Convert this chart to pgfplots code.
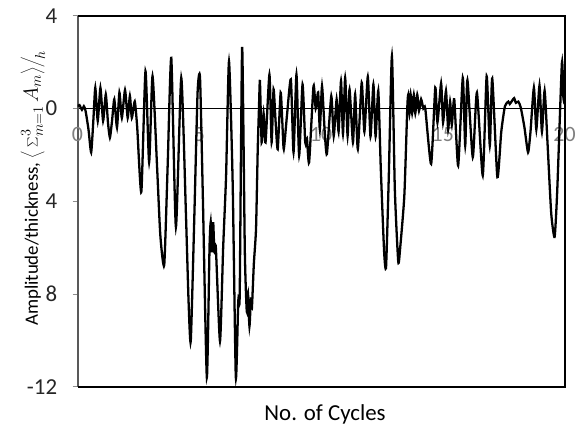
\documentclass[border=0pt]{standalone}
\usepackage{fontspec}
\setmainfont{Carlito}
\usepackage{pgfplots}
\pgfplotsset{compat=1.18}
\usetikzlibrary{calc}

\begin{document}
\begin{tikzpicture}
\begin{axis}[
  name=ax,
  scale only axis, width=490pt, height=373pt,
  xmin=0, xmax=20, ymin=-12, ymax=4,
  axis x line=middle, axis y line=left,
  axis line style={-},
  x axis line style={black, line width=1.1pt},
  y axis line style={black!65, line width=2pt},
  hide obscured x ticks=false, hide obscured y ticks=false,
  xtick={0,5,10,15,20}, xticklabels={0,5,10,15,20},
  xtick style={draw=none},
  ytick={-12,-8,-4,0,4}, yticklabels={-12,8,4,0,4},
  ytick style={black!45, line width=0.8pt},
  tick align=outside, major tick length=5pt,
  x tick label style={font=\fontsize{22}{26}\selectfont, text=black!50, anchor=north, yshift=-10pt},
  y tick label style={font=\fontsize{23}{27}\selectfont, text=black!85, xshift=-12pt},
  xlabel={No. of Cycles},
  xlabel style={font=\fontsize{23}{27}\selectfont, at={(axis description cs:0.5,0)}, anchor=base, yshift=-34pt, xshift=4pt},
  ylabel={Amplitude/thickness,\ {\fontsize{22}{26}\selectfont$\left\langle\,\sum_{m=1}^{3}A_m\right\rangle\!\Bigg/_{\!h}$}},
  ylabel style={font=\fontsize{19}{23}\selectfont, at={(axis description cs:0,0.535)}, anchor=center, yshift=45pt},
]
\addplot[black, line width=2.3pt, smooth, tension=0.35] coordinates {
(0,0.1)(0.08,0.15)(0.18,-0.05)(0.26,0.1)(0.33,-0.1)(0.45,-0.9)(0.56,-1.89)
(0.65,-0.5)(0.73,0.9)(0.83,-0.53)(0.94,0.9)(1.05,-0.53)(1.16,0.61)(1.25,-0.6)
(1.33,-1.25)(1.42,-0.5)(1.51,0.4)(1.62,-0.82)(1.72,0.69)(1.82,-0.4)(1.95,0.8)
(2.06,-0.4)(2.15,0.55)(2.23,-0.4)(2.35,0.31)(2.45,-0.8)(2.62,-3.6)(2.79,1.61)
(2.94,-2.32)(3.08,1.4)(3.27,-2.6)(3.4,-5.47)(3.56,-6.75)(3.7,-2.5)(3.85,2.19)
(4.04,-5.11)(4.26,1.33)(4.45,-4.5)(4.56,-8.33)(4.65,-10.04)(4.8,-4.5)(4.93,0.7)
(5.03,1.33)(5.15,-4)(5.31,-11.6)(5.42,-6)(5.47,-4.9)(5.52,-6.2)(5.57,-4.9)
(5.62,-6.2)(5.68,-6.0)(5.85,-10.04)(5.98,-6.0)(6.1,-2.9)(6.22,2.04)(6.37,-3.18)
(6.5,-11.6)(6.6,-8.3)(6.66,-8.0)(6.76,2.66)(6.87,-6.18)(6.95,-8.76)(7.0,-8.0)
(7.06,-9.4)(7.12,-8.2)(7.16,-8.6)(7.24,-6.7)(7.33,-5.18)(7.40,-1.75)(7.45,0)
(7.49,1.19)(7.56,-1.46)(7.64,-0.2)(7.72,-1.46)(7.88,1.47)(7.97,-1.46)(8.05,0.83)
(8.13,-0.5)(8.22,-1.75)(8.34,0.69)(8.41,-0.6)(8.47,-1.75)(8.6,-0.3)(8.76,1.26)
(8.87,-1.89)(8.99,1.47)(9.1,-2.03)(9.24,1.04)(9.35,-1.46)(9.42,-1.3)(9.51,-2.32)
(9.69,0.97)(9.78,0)(9.88,0.7)(9.95,-0.9)(10.04,0.97)(10.15,-1.0)(10.24,-1.96)
(10.42,0.54)(10.52,-1.18)(10.64,0.4)(10.72,-1.0)(10.82,1.19)(10.9,-1.1)(10.99,1.33)
(11.09,-1.18)(11.17,0.83)(11.31,-1.46)(11.4,0.62)(11.51,-1.75)(11.67,1.12)(11.78,-1.0)
(11.92,1.38)(12.03,-1.2)(12.15,1.04)(12.24,-1.2)(12.35,0.77)(12.45,-2.5)(12.59,-6.18)
(12.67,-6.82)(12.78,-3)(12.91,2.26)(13.03,-3.5)(13.17,-6.61)(13.25,-6.0)(13.42,-3.75)
(13.54,0)(13.58,0.6)(13.63,-0.2)(13.68,0.6)(13.74,-0.2)(13.81,0.6)(13.87,-0.2)
(13.95,0.6)(14.02,-0.1)(14.11,0.4)(14.2,0.0)(14.28,0)(14.52,-2.39)(14.69,0.9)
(14.78,-0.6)(14.93,1.09)(15.01,-0.6)(15.13,0.77)(15.22,-0.9)(15.3,0.3)(15.37,-0.7)
(15.47,0.4)(15.63,-2.46)(15.82,1.33)(15.92,-1.6)(16.01,1.23)(16.23,-2.1)(16.4,0.69)
(16.64,-2.89)(16.8,1.4)(16.93,-1.6)(17.03,1.3)(17.24,-2.96)(17.4,-1.0)(17.55,0.1)
(17.69,0.3)(17.75,0.2)(17.85,0.35)(17.93,0.45)(18.0,0.25)(18.1,0.3)(18.2,0.05)
(18.35,-0.8)(18.5,-1.89)(18.6,-1.0)(18.74,0.9)(18.84,-0.9)(18.97,1.0)(19.07,-1.0)
(19.18,0.77)(19.3,-1.5)(19.45,-4.5)(19.59,-5.54)(19.7,-3.5)(19.89,1.97)(19.95,0.5)
(20,0.2)
};
\end{axis}
\draw[black, line width=2pt] (ax.south west) -- (ax.south east) -- (ax.north east) -- (ax.north west);
\pgfresetboundingbox
\path ($(ax.south west)+(-78pt,-41pt)$) rectangle ($(ax.north east)+(12.5pt,16pt)$);
\end{tikzpicture}
\end{document}
